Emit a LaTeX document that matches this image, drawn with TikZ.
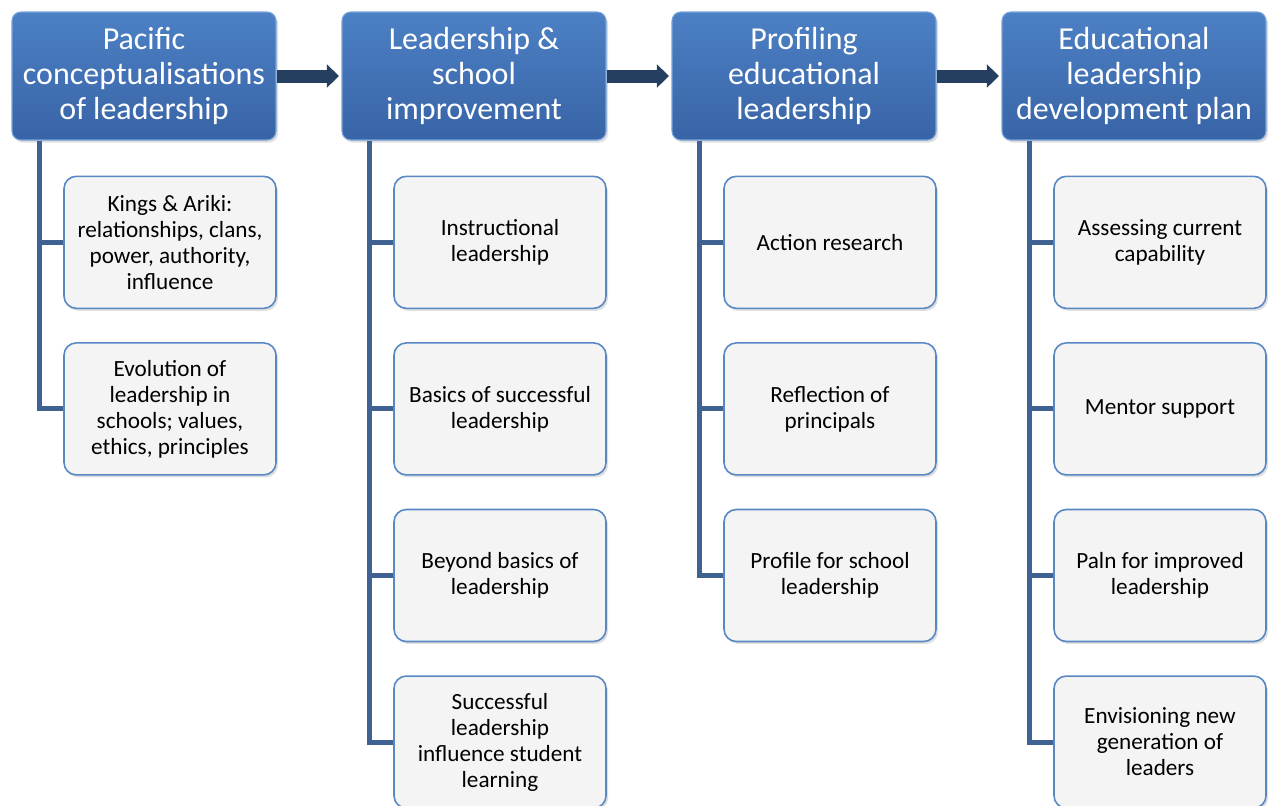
\documentclass[tikz,border=0pt]{standalone}
\usepackage{fontspec}
\setmainfont{Carlito}
\usepackage{tikz}
\usetikzlibrary{arrows.meta,positioning,calc,shadows}
\definecolor{cHeadTop}{RGB}{76,128,196}
\definecolor{cHeadBot}{RGB}{56,100,166}
\definecolor{cHeadLine}{RGB}{120,165,220}
\definecolor{cLeaf}{RGB}{244,244,244}
\definecolor{cLeafLine}{RGB}{88,136,196}
\definecolor{cLink}{RGB}{64,98,146}
\definecolor{cFlow}{RGB}{36,63,96}
\tikzset{
  head/.style={draw=cHeadLine, line width=0.6pt, top color=cHeadTop, bottom color=cHeadBot,
               rounded corners=5pt, minimum width=5.28cm, minimum height=2.56cm,
               align=center, text=white, font=\fontsize{18.2}{19.9}\selectfont,
               drop shadow={opacity=0.25, shadow xshift=0.04cm, shadow yshift=-0.05cm}},
  leaf/.style={draw=cLeafLine, line width=0.9pt, fill=cLeaf,
               rounded corners=7pt, minimum width=4.24cm, minimum height=2.64cm,
               align=center, font=\fontsize{13.2}{14.8}\selectfont,
               drop shadow={opacity=0.25, shadow xshift=0.04cm, shadow yshift=-0.05cm}},
  link/.style={draw=cLink, line width=2.8pt},
  flow/.style={draw=cFlow, line width=7.4pt, -{Triangle[length=0.24cm, width=0.46cm]}, shorten >=1.5pt},
}

\begin{document}
\begin{tikzpicture}
  \useasboundingbox (0,0) rectangle (25.52,-16.1);
  % ---- headers ----
  \node[head] (h1) at (2.88,-1.52) {Pacific\\ conceptualisations\\ of leadership};
  \node[head] (h2) at (9.48,-1.52) {Leadership \&\\ school\\ improvement};
  \node[head] (h3) at (16.08,-1.52) {Profiling\\ educational\\ leadership};
  \node[head] (h4) at (22.68,-1.52) {Educational\\ leadership\\ development plan};
  \draw[flow] (h1.east) -- (h2.west);
  \draw[flow] (h2.east) -- (h3.west);
  \draw[flow] (h3.east) -- (h4.west);

  % ---- column 1 ----
  \coordinate (s1) at ($(h1.south west)+(0.56,0)$);
  \node[leaf, below=0.7cm of h1, xshift=0.52cm] (a1) {Kings \& Ariki:\\ relationships, clans,\\ power, authority,\\ influence};
  \node[leaf, below=0.66cm of a1] (a2) {Evolution of\\ leadership in\\ schools; values,\\ ethics, principles};

  % ---- column 2 ----
  \coordinate (s2) at ($(h2.south west)+(0.56,0)$);
  \node[leaf, below=0.7cm of h2, xshift=0.52cm] (b1) {Instructional\\ leadership};
  \node[leaf, below=0.66cm of b1] (b2) {Basics of successful\\ leadership};
  \node[leaf, below=0.66cm of b2] (b3) {Beyond basics of\\ leadership};
  \node[leaf, below=0.66cm of b3] (b4) {Successful\\ leadership\\ influence student\\ learning};

  % ---- column 3 ----
  \coordinate (s3) at ($(h3.south west)+(0.56,0)$);
  \node[leaf, below=0.7cm of h3, xshift=0.52cm] (c1) {Action research};
  \node[leaf, below=0.66cm of c1] (c2) {Reflection of\\ principals};
  \node[leaf, below=0.66cm of c2] (c3) {Profile for school\\ leadership};

  % ---- column 4 ----
  \coordinate (s4) at ($(h4.south west)+(0.56,0)$);
  \node[leaf, below=0.7cm of h4, xshift=0.52cm] (d1) {Assessing current\\ capability};
  \node[leaf, below=0.66cm of d1] (d2) {Mentor support};
  \node[leaf, below=0.66cm of d2] (d3) {Paln for improved\\ leadership};
  \node[leaf, below=0.66cm of d3] (d4) {Envisioning new\\ generation of\\ leaders};

  % ---- connectors ----
  \draw[link] (s1) |- (a2.west);
  \draw[link] (a1.west) -- (a1.west -| s1);
  \draw[link] (s2) |- (b4.west);
  \foreach \n in {b1,b2,b3} \draw[link] (\n.west) -- (\n.west -| s2);
  \draw[link] (s3) |- (c3.west);
  \foreach \n in {c1,c2} \draw[link] (\n.west) -- (\n.west -| s3);
  \draw[link] (s4) |- (d4.west);
  \foreach \n in {d1,d2,d3} \draw[link] (\n.west) -- (\n.west -| s4);
\end{tikzpicture}
\end{document}
